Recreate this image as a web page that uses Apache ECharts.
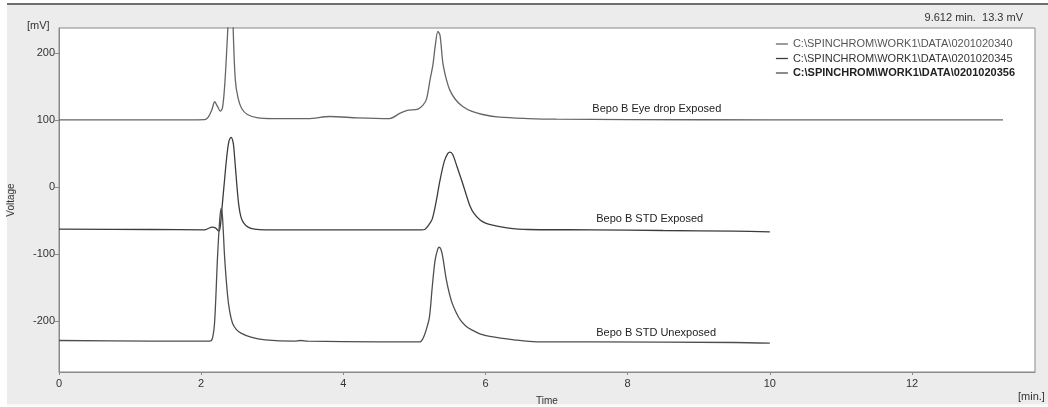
<!DOCTYPE html>
<html lang="en">
  <head>
    <meta charset="UTF-8" />
    <title>Bepo B chromatogram</title>
    <style>
      html, body { margin: 0; padding: 0; background: #ffffff; }
    </style>
  </head>
  <body>
    <div id="chart" style="width: 1048px; height: 407px;"></div>
  </body>
  <script src="https://cdn.jsdelivr.net/npm/echarts@6/dist/echarts.min.js"></script>
  <script>
    // traces: [time (min), voltage (mV)]
    const eyeDropExposed = [
      [0, 100], [1.5, 100], [2.05, 100.5], [2.1, 104], [2.15, 115], [2.19, 127],
      [2.23, 120], [2.27, 113], [2.3, 118], [2.33, 150], [2.36, 205], [2.38, 250],
      [2.415, 400], [2.45, 237], [2.48, 160], [2.52, 132], [2.57, 117], [2.65, 108],
      [2.8, 103], [3.0, 102], [3.5, 102], [3.81, 105], [4.2, 103], [4.65, 102],
      [4.8, 110], [4.9, 114], [5.05, 116], [5.12, 122], [5.17, 131], [5.22, 160],
      [5.26, 182], [5.29, 208], [5.33, 232], [5.36, 226], [5.4, 185], [5.45, 160],
      [5.5, 144], [5.58, 130], [5.68, 120], [5.8, 113], [5.96, 108], [6.2, 104],
      [6.6, 102], [7.0, 101], [8.0, 100.5], [10, 100], [13.28, 100]
    ]
    const stdExposed = [
      [0, -63], [1.3, -63.5], [2.05, -64], [2.1, -62], [2.15, -60], [2.2, -61],
      [2.25, -66], [2.27, -58], [2.29, -35], [2.32, 0], [2.36, 45], [2.39, 68],
      [2.42, 74], [2.45, 66], [2.47, 45], [2.5, 5], [2.53, -28], [2.56, -45],
      [2.6, -54], [2.66, -60], [2.75, -63], [2.9, -64], [3.5, -64], [4.5, -64],
      [5.1, -64], [5.15, -63], [5.2, -57], [5.25, -48], [5.3, -25], [5.36, 10],
      [5.42, 38], [5.47, 50], [5.5, 52], [5.54, 48], [5.6, 30], [5.67, 8],
      [5.73, -12], [5.78, -28], [5.84, -40], [5.92, -49], [6.0, -54], [6.1, -57],
      [6.3, -61], [6.6, -63.5], [7.5, -64], [8.5, -65], [9.5, -66], [10, -67]
    ]
    const stdUnexposed = [
      [0, -229], [1.3, -230], [2.12, -230], [2.16, -225], [2.19, -200], [2.23, -105],
      [2.26, -50], [2.28, -32], [2.3, -45], [2.33, -105], [2.37, -160], [2.4, -185],
      [2.44, -203], [2.49, -212], [2.56, -218], [2.7, -224], [2.9, -228], [3.3, -230],
      [3.4, -229], [3.5, -230], [4.5, -231], [5.08, -231], [5.12, -226], [5.16, -215],
      [5.21, -195], [5.25, -150], [5.29, -110], [5.33, -92], [5.35, -90], [5.39, -100],
      [5.45, -139], [5.52, -170], [5.59, -188], [5.65, -199], [5.73, -208], [5.82, -214],
      [5.92, -219], [6.06, -223], [6.4, -228], [6.72, -231], [7.5, -231], [9.5, -232],
      [10, -233]
    ]

    const fileNames = [
      'C:\\SPINCHROM\\WORK1\\DATA\\0201020340',
      'C:\\SPINCHROM\\WORK1\\DATA\\0201020345',
      'C:\\SPINCHROM\\WORK1\\DATA\\0201020356'
    ]
    const traceLabels = ['Bepo B Eye drop Exposed', 'Bepo B STD Exposed', 'Bepo B STD Unexposed']
    // where each trace label sits, in data units [min, mV]
    const labelSpots = [[8.41, 116], [8.31, -48], [8.4, -218]]
    const traces = [eyeDropExposed, stdExposed, stdUnexposed]
    const lineColors = ['#666666', '#3c3c3c', '#4e4e4e']

    const font = 'Liberation Sans, Arial, sans-serif'
    const chart = echarts.init(document.getElementById('chart'))

    const series = traces.map((points, i) => ({
      name: fileNames[i],
      type: 'line',
      data: points,
      symbol: 'none',
      smooth: 0.3,
      clip: true,
      animation: false,
      lineStyle: { color: lineColors[i], width: 1.3 },
      itemStyle: { color: lineColors[i] },
      markPoint: {
        silent: true,
        animation: false,
        symbol: 'rect',
        symbolSize: 1,
        itemStyle: { color: 'rgba(0,0,0,0)' },
        label: {
          show: true,
          position: 'inside',
          formatter: traceLabels[i],
          color: '#222',
          fontFamily: font,
          fontSize: 11
        },
        data: [{ coord: labelSpots[i] }]
      }
    }))

    const option = {
      backgroundColor: '#ffffff',
      animation: false,
      textStyle: { fontFamily: font },
      graphic: [
        // window face behind the plot
        { type: 'rect', z: -10, silent: true, shape: { x: 7, y: 4, width: 1041, height: 401 },
          style: { fill: '#ececec' } },
        { type: 'line', z: -9, silent: true, shape: { x1: 7, y1: 4, x2: 1048, y2: 4 },
          style: { stroke: '#6f6f6f', lineWidth: 2 } },
        { type: 'line', z: -9, silent: true, shape: { x1: 7, y1: 405, x2: 1048, y2: 405 },
          style: { stroke: '#f7f7f7', lineWidth: 2 } },
        { type: 'text', left: 27, top: 20, style: { text: '[mV]', fill: '#333', font: '11px ' + font } },
        { type: 'text', left: 1018, top: 391, style: { text: '[min.]', fill: '#333', font: '11px ' + font } },
        { type: 'text', right: 25, top: 12, style: { text: '9.612 min.  13.3 mV', fill: '#333', font: '11px ' + font } }
      ],
      legend: {
        orient: 'vertical',
        right: 33,
        top: 38.5,
        padding: 0,
        itemWidth: 12,
        itemHeight: 11,
        itemGap: 3.5,
        align: 'left',
        selectedMode: false,
        itemStyle: { opacity: 0 },
        lineStyle: { width: 1.3 },
        textStyle: { fontSize: 11, lineHeight: 11, color: '#444', fontFamily: font },
        data: [
          { name: fileNames[0], textStyle: { color: '#555' } },
          { name: fileNames[1], textStyle: { color: '#333' } },
          { name: fileNames[2], textStyle: { color: '#222', fontWeight: 'bold' } }
        ]
      },
      grid: {
        left: 59,
        right: 13,
        top: 28,
        bottom: 35,
        show: true,
        backgroundColor: '#ffffff',
        borderColor: '#8a8a8a',
        borderWidth: 1,
        containLabel: false,
        outerBoundsMode: 'none'
      },
      xAxis: {
        type: 'value',
        min: 0,
        max: 13.73,
        interval: 2,
        name: 'Time',
        nameLocation: 'middle',
        nameGap: 24,
        nameTextStyle: { fontSize: 10, color: '#333' },
        axisLine: { show: true, onZero: false, lineStyle: { color: '#8a8a8a' } },
        axisTick: { show: true, length: 3, lineStyle: { color: '#8a8a8a' } },
        axisLabel: { fontSize: 11, color: '#333', margin: 6, showMaxLabel: false },
        splitLine: { show: false }
      },
      yAxis: {
        type: 'value',
        min: -276,
        max: 237,
        splitNumber: 5,
        name: 'Voltage',
        nameLocation: 'middle',
        nameGap: 43,
        nameTextStyle: { fontSize: 10, color: '#333' },
        axisLine: { show: true, onZero: false, lineStyle: { color: '#8a8a8a' } },
        axisTick: { show: true, length: 4, lineStyle: { color: '#8a8a8a' } },
        axisLabel: { fontSize: 11, color: '#333', margin: 4, showMinLabel: false, showMaxLabel: false },
        splitLine: { show: false }
      },
      series: series
    }

    chart.setOption(option)
  </script>
</html>
